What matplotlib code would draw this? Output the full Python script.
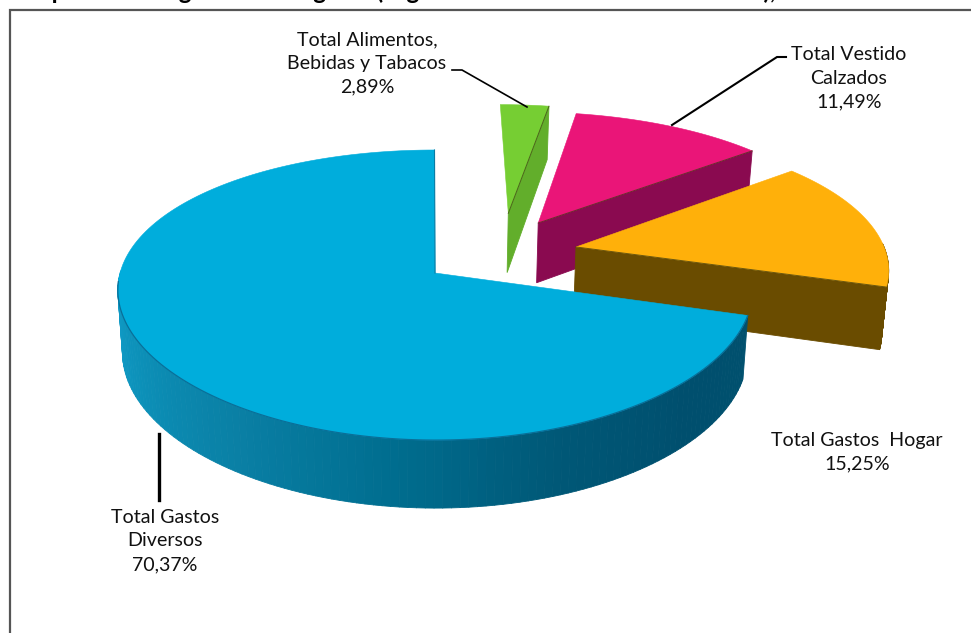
#!/usr/bin/env python
# coding: utf-8

import matplotlib
matplotlib.use('Agg')
import matplotlib.pyplot as plt
from matplotlib.collections import PolyCollection
from matplotlib.colors import LinearSegmentedColormap
import numpy as np

plt.rcParams['font.family'] = ['Lato', 'DejaVu Sans']

# shares in drawing order, back to front
names = ['Total Alimentos,\nBebidas y Tabacos', 'Total Vestido\nCalzados',
         'Total Gastos  Hogar', 'Total Gastos\nDiversos']
values = [2.89, 11.49, 15.25, 70.37]

title = 'Composición de gastos de hogares (según datos de las Cuentas Anuales), 2012'

top_colors = ['#76CE33', '#EA1578', '#FFB00A', '#00ADDC']
side_colors = ['#62AE2B', '#8A0A50', '#6A4C00', None]
explode = [(0.262, 0.45), (0.359, 0.373), (0.474, 0.189), (0.016, 0.0)]

label_pos = [(367, 63), (849, 78), (857, 452), (165, 541)]
leader_x = [[452, 462, 527], [672, 777, 786], [], [159, 159]]
leader_y = [[70, 70, 107], [125, 57, 57], [], [434, 500]]
leader_w = [1.2, 1.5, 0, 2.4]

# screen layout of the tilted pie
cx, cy = 430, 273
rx, ry = 315, 141.7
persp_x, persp_y = 0.12, 0.152
depth, depth_tilt = 62, 6

blue_side = LinearSegmentedColormap.from_list(
    'blue_side', ['#12A0CC', '#0C90B8', '#0A80A5', '#006E90', '#005877', '#004F6E', '#00506E'])


def project(x, y, z=0.0):
    sx = cx + rx * x / (1 + persp_x * y) * (1 - 0.015 * z)
    sy = cy - ry * y / (1 + persp_y * y) + z * (depth - depth_tilt * y)
    return sx, sy


def wedge_outline(t0, t1, off, z=0.0):
    t = np.radians(np.linspace(t0, t1, 180))
    xs = np.r_[off[0], off[0] + np.cos(t)]
    ys = np.r_[off[1], off[1] + np.sin(t)]
    return project(xs, ys, z)


fig = plt.figure(figsize=(9.71, 6.33), dpi=100)
ax = fig.add_axes([0, 0, 1, 1])
ax.set_xlim(0, 971)
ax.set_ylim(633, 0)
ax.axis('off')

# frame of the chart area, cut by the right and bottom of the page
ax.plot([10, 10, 971], [633, 10, 10], color='#555555', lw=1.6, solid_joinstyle='miter')

# the blue slice runs counterclockwise from 12 o'clock, the others follow clockwise from it
angles = np.cumsum([0] + [v * 3.6 for v in values[:3]])
starts = list(90 - angles[1:]) + [90]
ends = list(90 - angles[:-1]) + [90 + values[3] * 3.6]

for i in range(4):
    t0, t1 = starts[i], ends[i]
    off = explode[i]
    top_x, top_y = wedge_outline(t0, t1, off)
    low_x, low_y = wedge_outline(t0, t1, off, 1.0)
    theta = np.linspace(t0, t1, 180)

    # outer wall as thin quads, only the part turned to the viewer
    quads = []
    shades = []
    for j in range(1, len(top_x) - 1):
        if np.sin(np.radians(theta[j - 1])) > 0.02:
            continue
        quads.append([(top_x[j], top_y[j]), (top_x[j + 1], top_y[j + 1]),
                      (low_x[j + 1], low_y[j + 1]), (low_x[j], low_y[j])])
        shades.append((theta[j - 1] - 180) / 163.0)
    if quads:
        wall = side_colors[i] if side_colors[i] else blue_side(np.clip(shades, 0, 1))
        ax.add_collection(PolyCollection(quads, facecolors=wall, edgecolors=wall, linewidths=0.6))

    # cut face at the start angle
    if side_colors[i] is not None:
        face_x = [top_x[0], top_x[1], low_x[1], low_x[0]]
        face_y = [top_y[0], top_y[1], low_y[1], low_y[0]]
        ax.fill(face_x, face_y, color=side_colors[i], lw=0.6)

    ax.fill(top_x, top_y, color=top_colors[i], lw=0.4)

    if side_colors[i] is None:
        # darker seam where the top meets the wall, and along the notch
        front = theta >= 183
        ax.plot(top_x[1:][front], top_y[1:][front], color='#0A6F98', lw=0.9)
        ax.plot(top_x[:2], top_y[:2], color='#0A7BA3', lw=0.8)
    else:
        ax.plot(top_x[:2], top_y[:2], color='#3A3A10', lw=0.7, alpha=0.7)

for i in range(4):
    if leader_x[i]:
        ax.plot(leader_x[i], leader_y[i], color='black', lw=leader_w[i], solid_joinstyle='miter')
    pct = '%.2f%%' % values[i]
    ax.text(label_pos[i][0], label_pos[i][1], names[i] + '\n' + pct.replace('.', ','),
            ha='center', va='center', fontsize=14.1, color='#111111', linespacing=1.47)

ax.text(2, -1, title, ha='left', va='baseline', fontsize=17.3, fontweight='bold',
        color='black', clip_on=True)

fig.savefig('out.png', dpi=100)
